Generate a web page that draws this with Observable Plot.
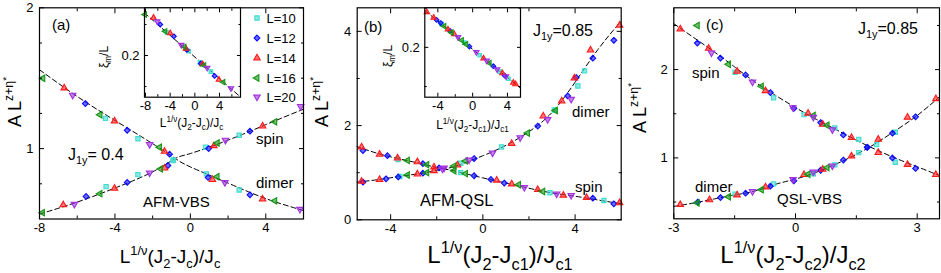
<!DOCTYPE html>
<html><head><meta charset="utf-8">
<script src="https://cdn.jsdelivr.net/npm/d3@7"></script>
<script src="https://cdn.jsdelivr.net/npm/@observablehq/plot@0.6"></script>
<style>
body{margin:0;background:#fff;}
#fig{position:relative;width:941px;height:273px;font-family:"Liberation Sans",Arial,Helvetica,sans-serif;overflow:hidden;background:#fff;color:#000}
.t{position:absolute;white-space:nowrap;line-height:1;color:#000}
.sp{font-size:0.68em;position:relative;top:-0.62em}
.sp2{font-size:0.8em;position:relative;top:-0.45em}
.sb{font-size:0.68em;position:relative;top:0.4em}
</style></head>
<body><div id="fig"></div>
<script>
// ---------- data ----------
const L_VALUES = [10, 12, 14, 16, 20];
const L_COLORS = ["#3fdccf", "#0a0aff", "#ff1a1a", "#149614", "#a030e0"];

// panel (a)
const aXTicks = [-8, -4, 0, 4];
const aXMinor = [-6, -2, 2, 6];
const aYTicks = [1, 2];
const aYMinor = [0.75, 1.25, 1.5, 1.75];
const aDown = [[16,-7.82,1.50],[14,-6.69,1.43],[20,-6.24,1.38],[12,-5.57,1.32],[16,-4.79,1.24],[10,-4.5,1.215],[14,-4.02,1.196],[12,-3.35,1.13],[10,-2.78,1.07],[20,-2.16,1.03],[16,-1.63,1.01],[14,-1.37,0.98],[12,-1.10,0.96],[10,-0.92,0.915],[10,0.85,0.82],[12,0.94,0.795],[14,1.17,0.78],[16,1.42,0.80],[20,1.83,0.76],[10,2.59,0.706],[12,3.16,0.672],[14,3.83,0.641],[16,4.48,0.629],[20,5.81,0.569]];
const aUp = [[16,-7.84,0.545],[14,-6.74,0.60],[20,-6.15,0.605],[12,-5.53,0.66],[16,-4.79,0.68],[10,-4.47,0.73],[14,-4.02,0.717],[12,-3.35,0.76],[10,-2.78,0.815],[20,-2.16,0.828],[16,-1.58,0.856],[14,-1.37,0.861],[12,-1.19,0.88],[10,-0.9,0.92],[10,0.80,1.01],[12,0.97,1.0],[14,1.25,1.02],[16,1.43,1.04],[20,1.86,1.06],[10,2.59,1.095],[12,3.16,1.124],[14,3.83,1.16],[16,4.48,1.19],[20,5.85,1.30]];
const aDownFit = [[-8,1.56],[-6,1.37],[-4,1.2],[-2,1.035],[-0.8,0.93],[0,0.87],[2,0.755],[4,0.645],[6,0.56]];
const aUpFit = [[-8,0.535],[-6,0.62],[-4,0.72],[-2,0.835],[-0.8,0.93],[0,0.965],[2,1.06],[4,1.17],[6,1.28]];

// inset (a)
const iaXTicks = [-8, -4, 0, 4];
const iaXMinor = [-6, -2, 2, 6];
const iaYTicks = [0.2];
const iaYMinor = [0.15, 0.25];
const iaPts = [[16,-8.1,0.266],[14,-6.7,0.261],[20,-6.1,0.255],[12,-5.6,0.25],[16,-4.8,0.239],[10,-4.5,0.237],[14,-4.0,0.236],[12,-3.4,0.231],[20,-2.2,0.217],[16,-1.7,0.214],[14,-1.45,0.211],[12,-1.3,0.209],[10,-1.0,0.207],[10,0.84,0.189],[12,0.95,0.187],[14,1.25,0.186],[16,1.5,0.184],[20,2.0,0.18],[10,2.6,0.174],[12,3.2,0.167],[14,3.9,0.161],[16,4.6,0.157],[20,5.85,0.147]];
const iaFit = [[-8.2,0.269],[7.4,0.133]];

// panel (b)
const bXTicks = [-4, 0, 4];
const bXMinor = [-2, 2];
const bYTicks = [0, 2, 4];
const bYMinor = [1, 3];
const bDimer = [[14,-5.26,1.545],[12,-5.2,1.47],[14,-4.48,1.39],[12,-4.14,1.36],[14,-3.7,1.31],[10,-3.68,1.28],[16,-3.27,1.26],[14,-2.84,1.23],[12,-2.6,1.19],[16,-2.43,1.17],[14,-2.12,1.12],[12,-1.9,1.10],[20,-1.68,1.10],[16,-1.25,1.14],[14,-1.1,1.16],[10,-0.96,1.2],[16,-0.75,1.25],[20,-0.6,1.27],[12,-0.38,1.30],[20,0.42,1.42],[10,0.81,1.545],[14,1.25,1.62],[20,1.62,1.745],[16,1.94,1.84],[12,2.38,1.99],[14,2.62,2.2],[20,2.81,2.13],[10,3.1,2.33],[16,3.15,2.32],[14,3.42,2.52],[12,3.68,2.63],[20,3.83,2.56],[14,3.97,3.01],[12,4.05,3.02],[10,4.12,2.84],[10,4.41,3.16],[14,4.67,3.6],[12,4.77,3.43],[12,5.68,3.81],[14,5.93,4.13]];
const bSpin = [[14,-5.26,0.815],[12,-5.2,0.80],[14,-4.48,0.855],[12,-4.2,0.87],[12,-3.67,0.91],[10,-3.6,0.92],[16,-3.27,0.95],[14,-2.84,0.97],[12,-2.6,0.99],[16,-2.43,1.0],[14,-2.12,1.04],[20,-1.75,1.08],[16,-1.25,1.04],[10,-0.96,1.0],[16,-0.75,0.98],[12,-0.38,0.935],[12,0.35,0.857],[14,0.6,0.84],[12,0.93,0.78],[14,1.25,0.76],[16,1.55,0.745],[20,1.8,0.69],[14,2.38,0.64],[16,2.6,0.6],[10,2.91,0.575],[20,3.2,0.55],[14,3.49,0.52],[20,3.83,0.52],[14,4.5,0.47],[12,4.77,0.46],[10,5.25,0.41],[12,5.68,0.34],[14,5.93,0.36]];
const bDimerFit = [[-5.5,1.56],[-4.5,1.40],[-3.5,1.28],[-2.5,1.17],[-1.7,1.09],[-1,1.17],[0,1.36],[1,1.58],[2,1.87],[3,2.28],[4,2.92],[5,3.62],[6,4.22]];
const bSpinFit = [[-5.5,0.8],[-4.5,0.855],[-3.5,0.93],[-2.5,1.0],[-1.7,1.07],[-1,1.01],[0,0.89],[1,0.78],[2,0.67],[3,0.57],[4,0.5],[5,0.42],[6,0.34]];

// inset (b)
const ibXTicks = [-4, 0, 4];
const ibXMinor = [-2, 2];
const ibYTicks = [0.2];
const ibYMinor = [0.15, 0.25];
const ibPts = [[14,-5.26,0.245],[14,-4.48,0.238],[12,-4.14,0.235],[12,-3.67,0.231],[10,-3.6,0.23],[16,-3.27,0.227],[14,-2.84,0.223],[12,-2.6,0.221],[16,-2.43,0.219],[14,-2.12,0.217],[20,-1.68,0.213],[16,-1.25,0.209],[10,-0.96,0.206],[16,-0.75,0.204],[12,-0.38,0.201],[20,0.42,0.194],[10,0.81,0.19],[14,1.25,0.186],[20,1.62,0.183],[16,1.94,0.18],[12,2.38,0.176],[20,2.81,0.172],[10,3.1,0.169],[14,3.42,0.167],[12,3.68,0.164],[20,3.83,0.163],[10,4.12,0.16],[14,4.67,0.155],[14,4.93,0.153]];
const ibFit = [[-5.5,0.247],[5.5,0.148]];

// panel (c)
const cXTicks = [-3, 0, 3];
const cXMinor = [-1.5, 1.5];
const cYTicks = [1, 2];
const cYMinor = [0.5, 1.5, 2.5];
const cSpin = [[14,-2.84,2.46],[16,-2.42,2.50],[12,-2.42,2.30],[14,-2.14,2.24],[20,-2.07,2.19],[12,-1.85,2.13],[16,-1.65,2.06],[14,-1.44,1.98],[10,-1.49,1.97],[12,-1.23,1.94],[20,-1.06,1.86],[16,-0.84,1.81],[14,-0.74,1.76],[12,-0.62,1.74],[10,-0.54,1.68],[20,-0.06,1.57],[12,-0.04,1.56],[14,0.31,1.505],[10,0.21,1.49],[20,0.44,1.46],[16,0.44,1.48],[12,0.62,1.40],[14,0.67,1.38],[16,0.78,1.37],[20,0.91,1.32],[10,0.97,1.34],[12,1.18,1.26],[14,1.38,1.23],[10,1.56,1.21],[12,1.77,1.12],[14,2.04,1.06],[12,2.39,1.0],[10,2.46,0.95],[14,2.76,0.925],[12,2.96,0.88],[14,3.46,0.81]];
const cDimer = [[14,-2.84,0.47],[16,-2.42,0.49],[12,-2.41,0.50],[14,-2.12,0.525],[12,-1.85,0.55],[16,-1.65,0.56],[14,-1.44,0.58],[10,-1.49,0.59],[12,-1.23,0.60],[20,-1.06,0.62],[16,-0.84,0.64],[14,-0.74,0.67],[12,-0.62,0.68],[10,-0.54,0.705],[20,-0.06,0.755],[12,-0.04,0.74],[16,0.31,0.815],[14,0.21,0.81],[10,0.44,0.82],[20,0.44,0.84],[12,0.62,0.86],[14,0.67,0.87],[16,0.78,0.89],[20,0.91,0.91],[10,0.97,0.92],[12,1.18,0.975],[14,1.38,1.02],[10,1.56,1.06],[12,1.77,1.12],[10,2.0,1.15],[14,2.04,1.21],[12,2.39,1.28],[10,2.46,1.29],[14,2.76,1.46],[12,2.96,1.465],[14,3.46,1.67]];
const cSpinFit = [[-3,2.52],[-2.5,2.36],[-2,2.2],[-1.5,2.03],[-1,1.86],[-0.5,1.71],[0,1.57],[0.5,1.44],[1,1.32],[1.5,1.2],[2,1.09],[2.5,0.99],[3,0.9],[3.6,0.79]];
const cDimerFit = [[-3,0.45],[-2.5,0.49],[-2,0.535],[-1.5,0.58],[-1,0.625],[-0.5,0.7],[0,0.76],[0.5,0.835],[1,0.93],[1.5,1.04],[2,1.17],[2.5,1.32],[3,1.48],[3.6,1.71]];

// ---------- rendering ----------
const FONT = '"Liberation Sans", Arial, Helvetica, sans-serif';
const fig = document.getElementById("fig");
const s3 = Math.sqrt(3);
const triLeft = {draw(c, size){const y = -Math.sqrt(size/(s3*3)); c.moveTo(y*2,0); c.lineTo(-y,-s3*y); c.lineTo(-y,s3*y); c.closePath();}};
const triDown = {draw(c, size){const y = -Math.sqrt(size/(s3*3)); c.moveTo(0,-y*2); c.lineTo(-s3*y,y); c.lineTo(s3*y,y); c.closePath();}};
const diamondSq = {draw(c, size){const h = Math.sqrt(size / 2) * 0.95; c.moveTo(0,-h); c.lineTo(h,0); c.lineTo(0,h); c.lineTo(-h,0); c.closePath();}};
const L_SYMBOLS = [d3.symbolSquare, diamondSq, d3.symbolTriangle, triLeft, triDown];
const MAIN_R = 2.4, INSET_R = 2.0;

function dotsFor(data, r) {
  return L_VALUES.map((L, i) => Plot.dot(data.filter(d => d[0] === L), {
    x: d => d[1], y: d => d[2], symbol: L_SYMBOLS[i], r,
    fill: L_COLORS[i], fillOpacity: 0.6, stroke: L_COLORS[i], strokeWidth: 1.1
  }));
}
function fitLine(f, curve) {
  return Plot.line(f, {x: d => d[0], y: d => d[1], curve, stroke: "black", strokeWidth: 1, strokeDasharray: "5,3", clip: true});
}
function axesMarks(xT, xM, yT, yM, o) {
  const fmt = d => String(d);
  const blank = () => "";
  const m = [
    Plot.axisX(xT, {anchor: "bottom", tickSize: 0, tickPadding: o.xpad, fontSize: o.fs, tickFormat: fmt, label: null, fill: "black"}),
    Plot.axisY(yT, {anchor: "left", tickSize: 0, tickPadding: o.ypad, fontSize: o.fs, tickFormat: fmt, label: null, fill: "black"})
  ];
  for (const a of ["bottom", "top"]) {
    m.push(Plot.axisX(xT, {anchor: a, tickSize: -o.major, tickFormat: blank, label: null, stroke: "black"}));
    m.push(Plot.axisX(xM, {anchor: a, tickSize: -o.minor, tickFormat: blank, label: null, stroke: "black"}));
  }
  for (const a of ["left", "right"]) {
    m.push(Plot.axisY(yT, {anchor: a, tickSize: -o.major, tickFormat: blank, label: null, stroke: "black"}));
    m.push(Plot.axisY(yM, {anchor: a, tickSize: -o.minor, tickFormat: blank, label: null, stroke: "black"}));
  }
  return m;
}
function place(svg, left, top) {
  svg.style.position = "absolute";
  svg.style.left = left + "px";
  svg.style.top = top + "px";
  svg.style.background = "transparent";
  svg.style.overflow = "visible";
  svg.style.maxWidth = "none";
  fig.appendChild(svg);
}
function panel(p) {
  const svg = Plot.plot({
    width: p.width, height: 273,
    marginLeft: p.mL, marginRight: p.mR, marginTop: 7.3, marginBottom: 273 - p.bottom,
    x: {domain: p.xDomain}, y: {domain: p.yDomain},
    style: {fontFamily: FONT, color: "black"},
    marks: [
      ...p.fits.map(f => fitLine(f, "natural")),
      ...p.sets.flatMap(s => dotsFor(s, MAIN_R)),
      ...axesMarks(p.xT, p.xM, p.yT, p.yM, {fs: 13, xpad: 4, ypad: 6, major: 5, minor: 3}),
      Plot.frame({stroke: "black", strokeWidth: 1.2})
    ]
  });
  place(svg, p.left, 0);
}
function inset(p) {
  const svg = Plot.plot({
    width: p.width, height: 135,
    marginLeft: p.mL, marginRight: p.mR, marginTop: 7.3, marginBottom: 135 - 96.7,
    x: {domain: p.xDomain}, y: {domain: p.yDomain},
    style: {fontFamily: FONT, color: "black"},
    marks: [
      Plot.frame({fill: "white", stroke: null}),
      fitLine(p.fit, "linear"),
      ...dotsFor(p.pts, INSET_R),
      ...axesMarks(p.xT, p.xM, p.yT, p.yM, {fs: 13, xpad: 4, ypad: 5, major: 4, minor: 2.5}),
      Plot.frame({stroke: "black", strokeWidth: 1.2})
    ]
  });
  place(svg, p.left, 0);
}

panel({left: 0, width: 310, mL: 39, mR: 7, bottom: 218.5, xDomain: [-8, 6], yDomain: [0.5, 2],
  xT: aXTicks, xM: aXMinor, yT: aYTicks, yM: aYMinor, fits: [aDownFit, aUpFit], sets: [aDown, aUp]});
panel({left: 315, width: 310, mL: 41.7, mR: 4.3, bottom: 219.3, xDomain: [-5.45, 6.0], yDomain: [0, 4.5],
  xT: bXTicks, xM: bXMinor, yT: bYTicks, yM: bYMinor, fits: [bDimerFit, bSpinFit], sets: [bDimer, bSpin]});
panel({left: 630, width: 311, mL: 43.3, mR: 2, bottom: 218.3, xDomain: [-3, 3.55], yDomain: [0.31, 2.7],
  xT: cXTicks, xM: cXMinor, yT: cYTicks, yM: cYMinor, fits: [cSpinFit, cDimerFit], sets: [cSpin, cDimer]});
inset({left: 100, width: 150, mL: 44, mR: 10, xDomain: [-8.16, 7.4], yDomain: [0.1327, 0.277],
  xT: iaXTicks, xM: iaXMinor, yT: iaYTicks, yM: iaYMinor, fit: iaFit, pts: iaPts});
inset({left: 380, width: 150, mL: 44.3, mR: 10, xDomain: [-5.5, 5.5], yDomain: [0.1364, 0.2505],
  xT: ibXTicks, xM: ibXMinor, yT: ibYTicks, yM: ibYMinor, fit: ibFit, pts: ibPts});

// ---------- texts ----------
function tx(html, x, y, size, opts = {}) {
  const d = document.createElement("div");
  d.className = "t";
  d.innerHTML = html;
  d.style.left = x + "px"; d.style.top = y + "px"; d.style.fontSize = size + "px";
  const tr = [`translate(${opts.mid ? "-50%" : "0"},-50%)`];
  if (opts.rot) tr.push(`rotate(${opts.rot}deg)`);
  d.style.transform = tr.join(" ");
  fig.appendChild(d);
}
const yTitle = 'A L<span class="sp">z+η<span class="sp2">*</span></span>';
const xTitle = s => `L<span class="sp">1/ν</span>(J<span class="sb">2</span>-J<span class="sb">${s}</span>)/J<span class="sb">${s}</span>`;
const xiTitle = 'ξ<span class="sb">m</span>/L';

tx(yTitle, 14.5, 102, 18, {mid: true, rot: -90});
tx(yTitle, 322, 102, 18, {mid: true, rot: -90});
tx(yTitle, 640, 108, 18, {mid: true, rot: -90});
tx(xTitle("c"), 170, 256, 19, {mid: true});
tx(xTitle("c1"), 500, 255, 24, {mid: true});
tx(xTitle("c2"), 793, 255, 24, {mid: true});
tx(xiTitle, 104, 57, 12, {mid: true, rot: -90});
tx(xiTitle, 388, 56, 12, {mid: true, rot: -90});
tx(xTitle("c"), 191.5, 123, 12, {mid: true});
tx(xTitle("c1"), 472.5, 125, 12, {mid: true});

tx("(a)", 52, 24, 15);
tx("(b)", 364, 26, 15);
tx("(c)", 706, 24, 15);
tx('J<span class="sb">1y</span>= 0.4', 68, 155, 16);
tx('J<span class="sb">1y</span>=0.85', 533, 31, 16);
tx('J<span class="sb">1y</span>=0.85', 858, 29, 16);
tx("spin", 256, 138, 15);
tx("dimer", 256, 182, 15);
tx("AFM-VBS", 143, 201, 15);
tx("dimer", 572, 111, 15);
tx("spin", 575, 186, 15);
tx("AFM-QSL", 420, 200, 16.5);
tx("spin", 692, 72, 15);
tx("dimer", 695, 186, 15);
tx("QSL-VBS", 777, 198, 15);

// legend
const legY = [18.3, 38.3, 58.3, 77.7, 97.3];
L_VALUES.forEach((L, i) => {
  const ns = "http://www.w3.org/2000/svg";
  const s = document.createElementNS(ns, "svg");
  s.setAttribute("width", 12); s.setAttribute("height", 12);
  s.style.position = "absolute"; s.style.left = (256.7 - 6) + "px"; s.style.top = (legY[i] - 6) + "px";
  const p = document.createElementNS(ns, "path");
  p.setAttribute("d", d3.symbol(L_SYMBOLS[i], Math.PI * MAIN_R * MAIN_R)());
  p.setAttribute("transform", "translate(6,6)");
  p.setAttribute("fill", L_COLORS[i]); p.setAttribute("fill-opacity", 0.6);
  p.setAttribute("stroke", L_COLORS[i]); p.setAttribute("stroke-width", 1.1);
  s.appendChild(p);
  fig.appendChild(s);
  tx(`L=${L}`, 266.5, legY[i], 13);
});
</script></body></html>
